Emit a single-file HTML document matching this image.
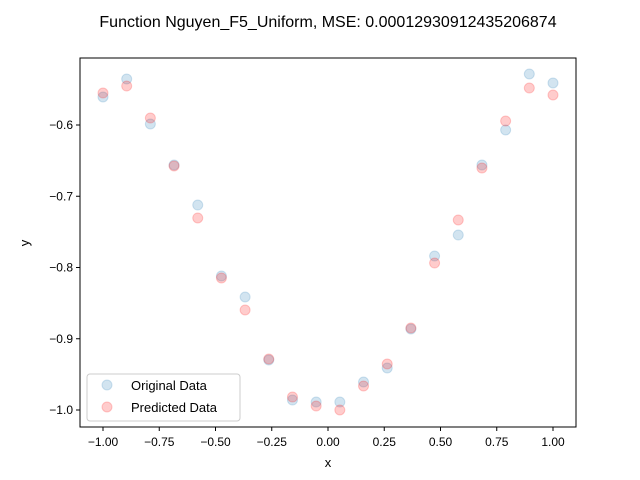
<!DOCTYPE html>
<html><head><meta charset="utf-8"><style>
body{margin:0;background:#fff;}
svg{display:block;font-family:"Liberation Sans","DejaVu Sans",sans-serif;}
</style></head><body>
<svg id="chart" width="640" height="480" viewBox="0 0 640 480">
<text x="328" y="27" font-size="16" text-anchor="middle">Function Nguyen_F5_Uniform, MSE: 0.00012930912435206874</text>
<rect x="80" y="58" width="496" height="369" fill="none" stroke="#000" stroke-width="1"/>
<g id="xt"></g>
<g id="yt"></g>
<g id="pts"></g>
<text x="328" y="467" font-size="13" text-anchor="middle">x</text>
<text x="29" y="243" font-size="13" text-anchor="middle" transform="rotate(-90 29 243)">y</text>
<g>
<rect x="87" y="374" width="153" height="47" rx="3" fill="#fff" fill-opacity="0.8" stroke="#ccc"/>
<circle cx="107" cy="385" r="5" fill="rgba(31,119,180,0.2)" stroke="rgba(31,119,180,0.2)"/>
<text x="131" y="390" font-size="13">Original Data</text>
<circle cx="107" cy="407" r="5" fill="rgba(255,0,0,0.2)" stroke="rgba(255,0,0,0.2)"/>
<text x="131" y="412" font-size="13">Predicted Data</text>
</g>
</svg>
<script>
const xTicks=[-1,-0.75,-0.5,-0.25,0,0.25,0.5,0.75,1];
const xTickLabels=["−1.00","−0.75","−0.50","−0.25","0.00","0.25","0.50","0.75","1.00"];
const yTicks=[-1.0,-0.9,-0.8,-0.7,-0.6];
const yTickLabels=["−1.0","−0.9","−0.8","−0.7","−0.6"];
const xValues=[-1,-0.8947,-0.7895,-0.6842,-0.5789,-0.4737,-0.3684,-0.2632,-0.1579,-0.0526,0.0526,0.1579,0.2632,0.3684,0.4737,0.5789,0.6842,0.7895,0.8947,1];
const originalY=[-0.5607,-0.5354,-0.5986,-0.6561,-0.7123,-0.8119,-0.8414,-0.9298,-0.986,-0.9888,-0.9888,-0.9607,-0.9411,-0.8863,-0.7839,-0.7544,-0.6561,-0.607,-0.5284,-0.541];
const predictedY=[-0.5551,-0.5453,-0.5902,-0.6575,-0.7305,-0.8147,-0.8596,-0.9284,-0.9818,-0.9944,-1.0,-0.9663,-0.9354,-0.8849,-0.7937,-0.7333,-0.6604,-0.5944,-0.5481,-0.5579];
const NS="http://www.w3.org/2000/svg";
const sx=v=>328+v*225;
const sy=v=>125-(v+0.6)*712.5;
function mk(t,a){const e=document.createElementNS(NS,t);for(const k in a)e.setAttribute(k,a[k]);return e;}
const xt=document.getElementById('xt'),yt=document.getElementById('yt'),pts=document.getElementById('pts');
xTicks.forEach((v,i)=>{
 const l=mk('line',{x1:sx(v),x2:sx(v),y1:427,y2:431,stroke:'#000'});
 
 
 xt.appendChild(l);
 const t=mk('text',{x:sx(v),y:446,'font-size':12,'text-anchor':'middle'});
 
 
 t.textContent=xTickLabels[i];xt.appendChild(t);
});
yTicks.forEach((v,i)=>{
 const l=mk('line',{x1:76,x2:80,y1:sy(v),y2:sy(v),stroke:'#000'});
 
 
 yt.appendChild(l);
 const t=mk('text',{x:73,y:sy(v)+4,'font-size':12,'text-anchor':'end'});
 
 
 t.textContent=yTickLabels[i];yt.appendChild(t);
});
xValues.forEach((x,i)=>{
 const c=mk('circle',{cx:sx(x),cy:sy(originalY[i]),r:5,fill:'rgba(31,119,180,0.2)',stroke:'rgba(31,119,180,0.2)'});
 
 
 pts.appendChild(c);
});
xValues.forEach((x,i)=>{
 const c=mk('circle',{cx:sx(x),cy:sy(predictedY[i]),r:5,fill:'rgba(255,0,0,0.2)',stroke:'rgba(255,0,0,0.2)'});
 
 
 pts.appendChild(c);
});
</script>
</body></html>
